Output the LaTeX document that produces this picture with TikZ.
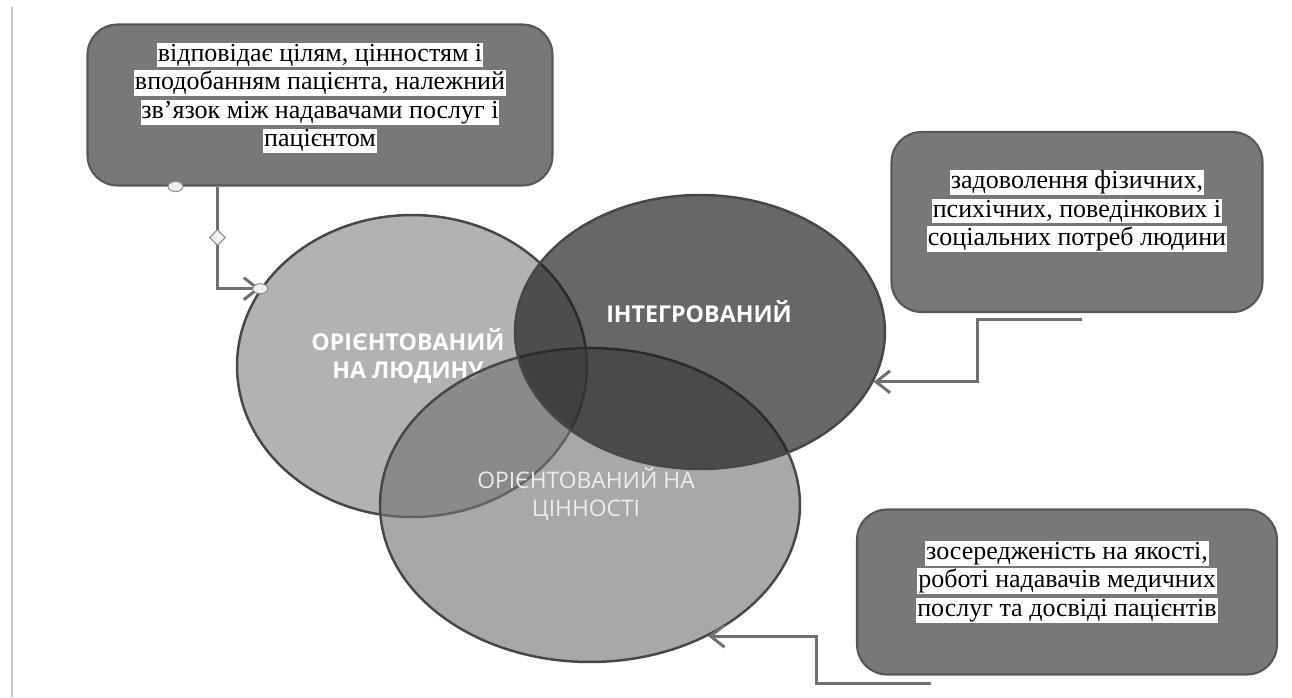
\documentclass[tikz,border=0pt]{standalone}
\usepackage{fontspec}
\setmainfont{Liberation Serif}
\newfontfamily\circfont{Open Sans}
\usetikzlibrary{arrows.meta,shapes.geometric}
\newcommand{\hl}[1]{{\setlength{\fboxsep}{0.5pt}\colorbox{white}{#1}}}

\begin{document}
\begin{tikzpicture}[x=0.02cm,y=-0.02cm,line width=1.4pt,>={Straight Barb[length=2.8mm,width=4.4mm]},
  box/.style={draw=black!66,fill=black!53,rounded corners=0.6cm,line width=1.2pt},
  note/.style={align=center,font=\fontsize{14.8}{16.2}\selectfont,text=black,inner sep=0pt},
  link/.style={draw=black!56,line width=1.7pt},
  venn/.style={ellipse,draw=black!72,line width=1.4pt,inner sep=0pt},
  vlabel/.style={align=center,font=\circfont\bfseries\fontsize{13.2}{16}\selectfont,text=white},
  handle/.style={ellipse,draw=black!45,fill=black!6,line width=0.6pt,minimum width=0.3cm,minimum height=0.2cm,inner sep=0pt}]
  \useasboundingbox (0,0) rectangle (1292,697);
  \draw[black!22,line width=1pt] (12,7)--(12,697);
  % cajas de texto
  \node[box,minimum width=9.3cm,minimum height=3.22cm] (boxA) at (320,105){};
  \node[note] (txtA) at (320,98){\hl{відповідає цілям, цінностям і}\\\hl{вподобанням пацієнта, належний}\\\hl{зв’язок між надавачами послуг і}\\\hl{пацієнтом}};
  \node[box,minimum width=7.42cm,minimum height=3.6cm] (boxB) at (1077,222){};
  \node[note] (txtB) at (1077,211){\hl{задоволення фізичних,}\\\hl{психічних, поведінкових і}\\\hl{соціальних потреб людини}};
  \node[box,minimum width=8.4cm,minimum height=3.3cm] (boxC) at (1067,592){};
  \node[note] (txtC) at (1067,582){\hl{зосередженість на якості,}\\\hl{роботі надавачів медичних}\\\hl{послуг та досвіді пацієнтів}};
  % circulos
  \node[venn,fill=black!30,minimum width=7cm,minimum height=6.04cm] (human) at (412,366){};
  \node[vlabel] (tHuman) at (408,356){ОРІЄНТОВАНИЙ\\НА ЛЮДИНУ};
  \node[venn,fill=black!55,fill opacity=0.62,minimum width=8.4cm,minimum height=6.28cm] (value) at (590,505){};
  \node[vlabel,font=\circfont\fontsize{13}{16}\selectfont,text=black!7] (tValue) at (586,494){ОРІЄНТОВАНИЙ НА\\ЦІННОСТІ};
  \node[venn,fill=black!89,fill opacity=0.67,minimum width=7.4cm,minimum height=5.48cm] (integ) at (700,332){};
  \node[vlabel] (tInteg) at (699,312){ІНТЕГРОВАНИЙ};
  % conectores
  \draw[link,->] ([xshift=2.62cm]boxA.south west) |- (human.153);
  \draw[link,->] ([shift={(0.1cm,-0.12cm)}]boxB.south) -- ++(-105,0) |- (integ.-16);
  \draw[link,->] ([shift={(1.5cm,-0.16cm)}]boxC.south west) -- ++(-114,0) |- (value.-48);
  \node[handle] (hA) at ([xshift=1.78cm]boxA.south west){};
  \node[handle,diamond,minimum width=0.32cm,minimum height=0.32cm] (hMid) at ([shift={(2.62cm,-1.02cm)}]boxA.south west){};
  \node[handle] (hB) at (human.153){};
\end{tikzpicture}
\end{document}
